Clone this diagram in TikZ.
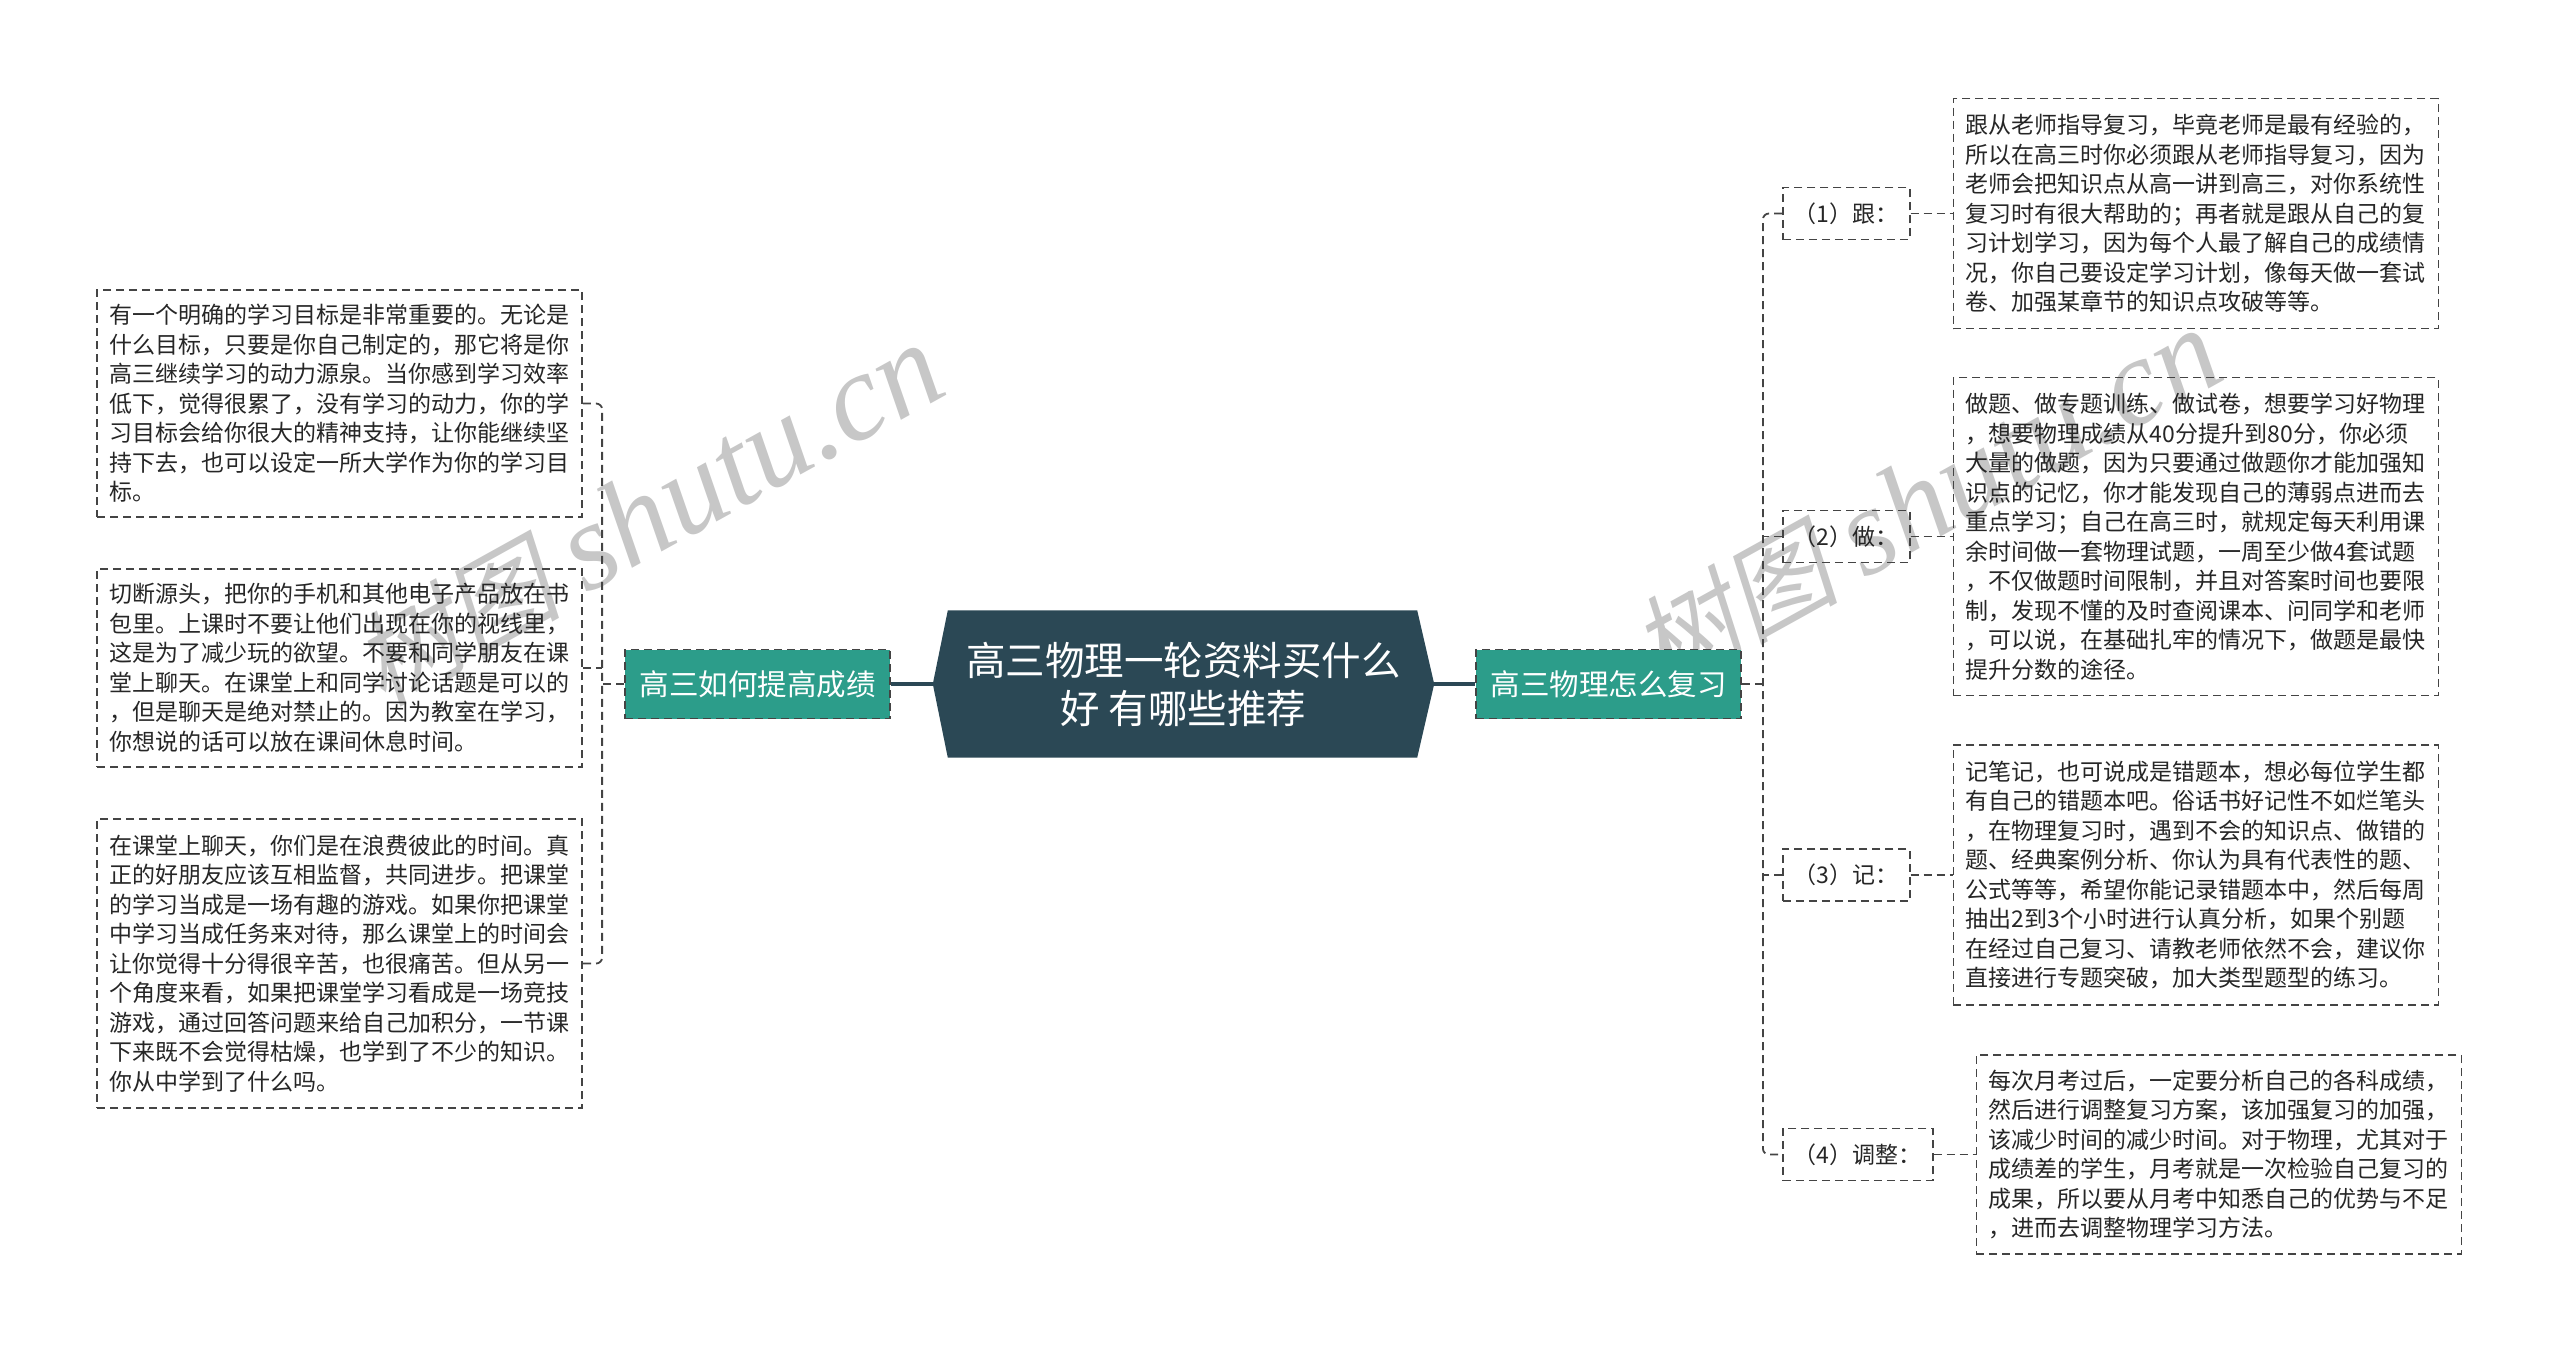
\documentclass[tikz,border=0pt]{standalone}
\usepackage{fontspec}
\setmainfont{Noto Sans CJK SC}
\newfontfamily\wmcjk[FakeSlant=0.2]{Noto Sans CJK SC}
\newfontfamily\wmlat{Liberation Serif}
\usetikzlibrary{calc,backgrounds}
\definecolor{rootc}{HTML}{2B4855}
\definecolor{greenc}{HTML}{2C9D8A}
\definecolor{linec}{HTML}{444444}
\definecolor{txtc}{HTML}{262626}
\begin{document}
\begin{tikzpicture}[x=1pt,y=-1pt,
 dashline/.style={draw=linec, line width=1.8pt, dash pattern=on 8pt off 5pt},
 conn/.style={dashline, rounded corners=6pt},
 textbox/.style={dashline, text=txtc, align=left, text width=460pt, inner xsep=12.5pt, inner ysep=0pt, font=\fontsize{23}{29.5}\selectfont},
 labelbox/.style={dashline, text=txtc, inner xsep=11pt, inner ysep=0pt, minimum height=52pt, font=\fontsize{23}{28}\selectfont, anchor=west},
 greennode/.style={fill=greenc, dashline, text=white, minimum height=69pt, minimum width=265pt, inner sep=0pt, font=\fontsize{29.5}{34}\selectfont},
 rootnode/.style={minimum width=501pt, minimum height=147pt, inner sep=0pt, text=white, align=center, font=\fontsize{39.5}{48}\selectfont},
 rootline/.style={draw=rootc, line width=4pt},
 wm/.style={text=black!22, rotate=29, inner sep=0pt}
]
\path[use as bounding box] (0,0) rectangle (2560,1353);

% central and main branches
\node[rootnode] (root) at (1183.5,684) {高三物理一轮资料买什么\\好 有哪些推荐};
\node[greennode] (lg) at (757.5,684) {高三如何提高成绩};
\node[greennode] (rg) at (1608.5,684) {高三物理怎么复习};
\draw[rootline] (lg.east) -- (root.west);
\draw[rootline] (root.east) -- (rg.west);

% left boxes
\node[textbox, minimum height=227pt] (L1) at (339.5,403.5) {有一个明确的学习目标是非常重要的。无论是\\什么目标，只要是你自己制定的，那它将是你\\高三继续学习的动力源泉。当你感到学习效率\\低下，觉得很累了，没有学习的动力，你的学\\习目标会给你很大的精神支持，让你能继续坚\\持下去，也可以设定一所大学作为你的学习目\\标。};
\node[textbox, minimum height=198pt] (L2) at (339.5,668) {切断源头，把你的手机和其他电子产品放在书\\包里。上课时不要让他们出现在你的视线里，\\这是为了减少玩的欲望。不要和同学朋友在课\\堂上聊天。在课堂上和同学讨论话题是可以的\\，但是聊天是绝对禁止的。因为教室在学习，\\你想说的话可以放在课间休息时间。};
\node[textbox, minimum height=289pt] (L3) at (339.5,963.5) {在课堂上聊天，你们是在浪费彼此的时间。真\\正的好朋友应该互相监督，共同进步。把课堂\\的学习当成是一场有趣的游戏。如果你把课堂\\中学习当成任务来对待，那么课堂上的时间会\\让你觉得十分得很辛苦，也很痛苦。但从另一\\个角度来看，如果把课堂学习看成是一场竞技\\游戏，通过回答问题来给自己加积分，一节课\\下来既不会觉得枯燥，也学到了不少的知识。\\你从中学到了什么吗。};

\coordinate (lj) at ($(lg.west)+(-22,0)$);
\draw[conn] (L1.east) -| (lj) |- (L3.east);
\draw[conn] (lg.west) -- (lj);
\draw[conn] (L2.east) -- (L2.east -| lj);

% right labels
\node[labelbox] (lab1) at (1782,213.5) {（1）跟：};
\node[labelbox] (lab2) at (1782,536.5) {（2）做：};
\node[labelbox] (lab3) at (1782,875) {（3）记：};
\node[labelbox] (lab4) at (1782,1154.5) {（4）调整：};

% right boxes
\node[textbox, minimum height=230pt, anchor=west] (R1) at ($(lab1.east)+(42,0)$) {跟从老师指导复习，毕竟老师是最有经验的，\\所以在高三时你必须跟从老师指导复习，因为\\老师会把知识点从高一讲到高三，对你系统性\\复习时有很大帮助的；再者就是跟从自己的复\\习计划学习，因为每个人最了解自己的成绩情\\况，你自己要设定学习计划，像每天做一套试\\卷、加强某章节的知识点攻破等等。};
\node[textbox, minimum height=318pt, anchor=west] (R2) at ($(lab2.east)+(42,0)$) {做题、做专题训练、做试卷，想要学习好物理\\，想要物理成绩从40分提升到80分，你必须\\大量的做题，因为只要通过做题你才能加强知\\识点的记忆，你才能发现自己的薄弱点进而去\\重点学习；自己在高三时，就规定每天利用课\\余时间做一套物理试题，一周至少做4套试题\\，不仅做题时间限制，并且对答案时间也要限\\制，发现不懂的及时查阅课本、问同学和老师\\，可以说，在基础扎牢的情况下，做题是最快\\提升分数的途径。};
\node[textbox, minimum height=260pt, anchor=west] (R3) at ($(lab3.east)+(42,0)$) {记笔记，也可说成是错题本，想必每位学生都\\有自己的错题本吧。俗话书好记性不如烂笔头\\，在物理复习时，遇到不会的知识点、做错的\\题、经典案例分析、你认为具有代表性的题、\\公式等等，希望你能记录错题本中，然后每周\\抽出2到3个小时进行认真分析，如果个别题\\在经过自己复习、请教老师依然不会，建议你\\直接进行专题突破，加大类型题型的练习。};
\node[textbox, minimum height=199pt, anchor=west] (R4) at ($(lab4.east)+(42,0)$) {每次月考过后，一定要分析自己的各科成绩，\\然后进行调整复习方案，该加强复习的加强，\\该减少时间的减少时间。对于物理，尤其对于\\成绩差的学生，月考就是一次检验自己复习的\\成果，所以要从月考中知悉自己的优势与不足\\，进而去调整物理学习方法。};

\coordinate (rj) at ($(rg.east)+(21,0)$);
\draw[conn] (lab1.west) -| (rj) |- (lab4.west);
\draw[conn] (rg.east) -- (rj);
\draw[conn] (lab2.west) -- (lab2.west -| rj);
\draw[conn] (lab3.west) -- (lab3.west -| rj);
\draw[conn] (lab1.east) -- (R1.west);
\draw[conn] (lab2.east) -- (R2.west);
\draw[conn] (lab3.east) -- (R3.west);
\draw[conn] (lab4.east) -- (R4.west);

% background: watermarks and root shape
\begin{scope}[on background layer]
\node[wm] (wm1) at (648,515) {{\wmcjk\fontsize{104}{104}\selectfont 树图}\hspace{25pt}{\wmlat\itshape\fontsize{124}{124}\selectfont shutu.cn}};
\node[wm] (wm2) at (1926,500) {{\wmcjk\fontsize{104}{104}\selectfont 树图}\hspace{25pt}{\wmlat\itshape\fontsize{124}{124}\selectfont shutu.cn}};
\fill[rootc] (root.west) -- ($(root.north west)+(15,0)$) -- ($(root.north east)+(-17,0)$) -- (root.east) -- ($(root.south east)+(-17,0)$) -- ($(root.south west)+(15,0)$) -- cycle;
\end{scope}
\end{tikzpicture}
\end{document}
